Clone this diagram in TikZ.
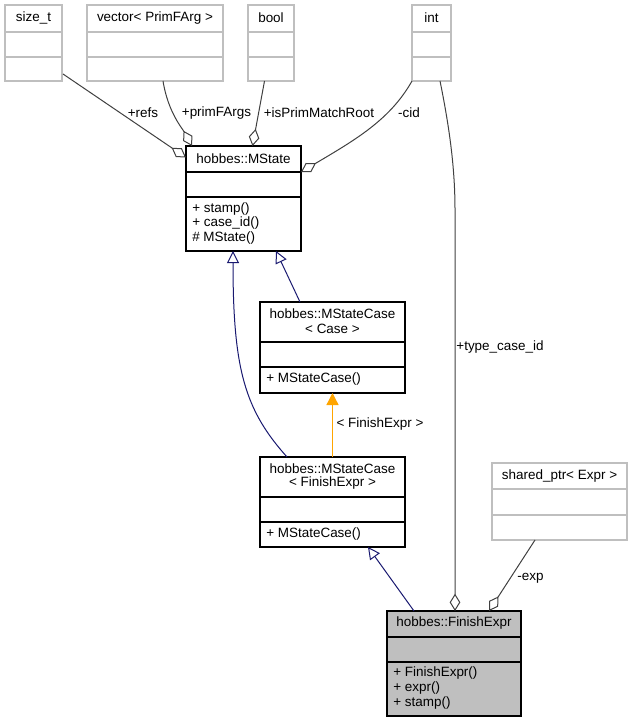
\documentclass[tikz,border=0pt]{standalone}
\usepackage{fontspec}
\setmainfont{Liberation Sans}
\usetikzlibrary{arrows.meta,fit}
\definecolor{edgegray}{HTML}{404040}
\definecolor{boxgray}{HTML}{BFBFBF}
\definecolor{navyblue}{HTML}{191970}
\definecolor{tplorange}{HTML}{FFA500}
\begin{document}
\begin{tikzpicture}[x=0.75pt,y=-0.75pt,
  txt/.style={inner sep=0pt,font=\fontsize{10.1}{11}\selectfont},
  mem/.style={txt,anchor=west},
  mainbox/.style={draw=black,line width=0.9pt,inner sep=0pt},
  extbox/.style={draw=boxgray,line width=0.9pt,inner sep=0pt},
  curbox/.style={draw=black,fill=boxgray,line width=0.9pt,inner sep=0pt},
  assoc/.style={draw=edgegray,line width=0.75pt,-{Diamond[open,length=13pt,width=8pt]}},
  inherit/.style={draw=navyblue,line width=0.75pt,-{Triangle[open,length=9pt,width=9pt]}},
  tmpl/.style={draw=tplorange,line width=1pt,-{Triangle[length=9pt,width=9pt]}},
  lbl/.style={txt}
]
\useasboundingbox (0,0) rectangle (632,723);
% macro for a three-compartment box
\newcommand{\umlbox}[8]{%
  \coordinate (#1-nw) at (#2,#3); \coordinate (#1-se) at (#4,#5);
  \node[#8,fit=(#1-nw)(#1-se)] (#1) {};
  \draw[#8,fill=none] (#2,#6) -- (#4,#6);
  \draw[#8,fill=none] (#2,#7) -- (#4,#7);
}
% external types
\umlbox{sizet}{5}{5}{62}{81}{32}{57}{extbox}
\node[txt] (sizetT) at (33.5,18) {size\_t};
\umlbox{vec}{87}{5}{223}{81}{32}{57}{extbox}
\node[txt] (vecT) at (155,18) {vector< PrimFArg >};
\umlbox{bool}{248}{5}{294}{81}{32}{57}{extbox}
\node[txt] (boolT) at (271,18) {bool};
\umlbox{int}{412}{5}{451}{81}{32}{57}{extbox}
\node[txt] (intT) at (431.5,18) {int};
\umlbox{sptr}{492}{463}{627}{540}{489}{515}{extbox}
\node[txt] (sptrT) at (559.5,476) {shared\_ptr< Expr >};
% MState
\umlbox{mstate}{186}{146}{301}{251}{172}{197}{mainbox}
\node[txt] (mstateT) at (243.5,158.5) {hobbes::MState};
\node[mem] (ms1) at (192,209) {+ stamp()};
\node[mem] (ms2) at (192,223) {+ case\_id()};
\node[mem] (ms3) at (192,238) {\# MState()};
% MStateCase<Case>
\umlbox{mcase}{260}{302}{405}{393}{342}{367}{mainbox}
\node[txt] (mcaseT1) at (332.5,314) {hobbes::MStateCase};
\node[txt] (mcaseT2) at (332.5,329) {< Case >};
\node[mem] (mc1) at (266,379.5) {+ MStateCase()};
% MStateCase<FinishExpr>
\umlbox{mfin}{260}{457}{405}{547}{497}{522}{mainbox}
\node[txt] (mfinT1) at (332.5,469) {hobbes::MStateCase};
\node[txt] (mfinT2) at (332.5,483.5) {< FinishExpr >};
\node[mem] (mf1) at (266,534) {+ MStateCase()};
% FinishExpr
\umlbox{fin}{387}{611}{521}{716}{637}{662}{curbox}
\node[txt] (finT) at (454,623.5) {hobbes::FinishExpr};
\node[mem] (f1) at (393,673.5) {+ FinishExpr()};
\node[mem] (f2) at (393,688.5) {+ expr()};
\node[mem] (f3) at (393,703.5) {+ stamp()};
% endpoint coordinates
\coordinate (e1s) at (63,74);   \coordinate (e1t) at (186,157.5);
\coordinate (e2s) at (163,81);  \coordinate (e2t) at (192,146);
\coordinate (e3s) at (264.5,81);\coordinate (e3t) at (252.5,146);
\coordinate (e4s) at (412,81);  \coordinate (e4t) at (301,172);
\coordinate (e5s) at (440,81);  \coordinate (e5t) at (455,611);
\coordinate (e6s) at (535,540); \coordinate (e6t) at (489,611);
\coordinate (i1s) at (300,302); \coordinate (i1t) at (276,251);
\coordinate (i2s) at (287,457); \coordinate (i2t) at (233,251);
\coordinate (i3s) at (414,611); \coordinate (i3t) at (368,547);
\coordinate (t1s) at (332.5,457); \coordinate (t1t) at (332.5,393);
% associations
\draw[assoc] (e1s) -- (e1t);
\draw[assoc] (e2s) .. controls (168,112) and (182,128) .. (e2t);
\draw[assoc] (e3s) -- (e3t);
\draw[assoc] (e4s) .. controls (390,120) and (355,140) .. (e4t);
\draw[assoc] (e5s) .. controls (450,130) and (455,170) .. (455,210) -- (e5t);
\draw[assoc] (e6s) -- (e6t);
% inheritance
\draw[inherit] (i1s) -- (i1t);
\draw[inherit] (i2s) .. controls (245,410) and (233,370) .. (i2t);
\draw[inherit] (i3s) -- (i3t);
\draw[tmpl] (t1s) -- (t1t);
% labels
\node[lbl] (l1) at (143,113) {+refs};
\node[lbl] (l2) at (216.5,113) {+primFArgs};
\node[lbl] (l3) at (319,113) {+isPrimMatchRoot};
\node[lbl] (l4) at (409,113) {-cid};
\node[lbl] (l5) at (500,347.5) {+type\_case\_id};
\node[lbl] (l6) at (380,424) {< FinishExpr >};
\node[lbl] (l7) at (530.5,578.5) {-exp};
\end{tikzpicture}
\end{document}
